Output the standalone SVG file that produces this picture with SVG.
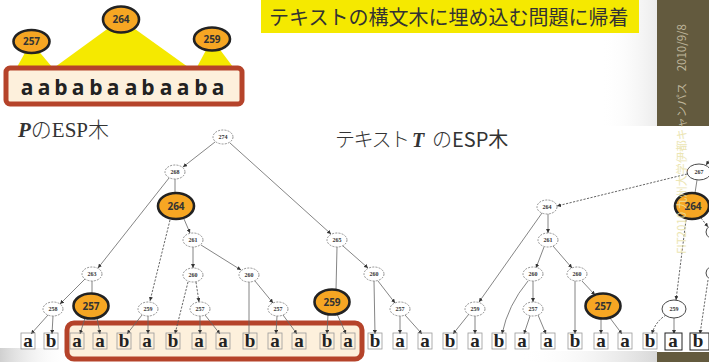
<svg xmlns="http://www.w3.org/2000/svg" width="709" height="362" viewBox="0 0 709 362">
<style>
.tri{fill:#f5e900}
.on{fill:#f6a623;stroke:#222;stroke-width:2.6}
.ol{font-family:"Open Sans","Liberation Sans",sans-serif;font-weight:bold;font-size:10px;fill:#333;text-anchor:middle}
.nd{fill:#fff;stroke:#777;stroke-width:0.8;stroke-dasharray:2 1.2}
.ns{fill:#fff;stroke:#333;stroke-width:0.9}
.nl{font-family:"Liberation Serif",serif;font-weight:bold;font-size:6px;fill:#333;text-anchor:middle}
.e{stroke:#666;stroke-width:0.8;fill:none}
.ed{stroke:#555;stroke-width:0.9;fill:none;stroke-dasharray:2.2 1.4}
.lb{fill:none;stroke:#999;stroke-width:0.8}
.lbs{fill:#fff;stroke:#222;stroke-width:1}
.lt{font-family:"Liberation Serif",serif;font-weight:bold;font-size:19px;fill:#222;text-anchor:middle}
.pl{font-family:"Open Sans","Liberation Sans",sans-serif;font-weight:bold;font-size:21px;fill:#222;text-anchor:middle}
.jp{font-family:"Noto Sans CJK JP",sans-serif;fill:#333}
.side{font-family:"Noto Sans CJK JP",sans-serif;font-size:11.5px;text-anchor:end}
</style>
<defs>
<marker id="ah" viewBox="0 0 6 6" refX="6" refY="3" markerWidth="4" markerHeight="4" orient="auto" markerUnits="userSpaceOnUse"><path d="M0,0 L6,3 L0,6 z" fill="#333"/></marker>
<linearGradient id="gr" x1="0" y1="0" x2="1" y2="0"><stop offset="0" stop-color="#fff" stop-opacity="0"/><stop offset="1" stop-color="#ececec"/></linearGradient>
<linearGradient id="gb" x1="0" y1="0" x2="1" y2="0"><stop offset="0" stop-color="#fff" stop-opacity="0"/><stop offset="1" stop-color="#d8d8d8"/></linearGradient>
<linearGradient id="gl" x1="0" y1="0" x2="1" y2="0"><stop offset="0" stop-color="#d0d0d0"/><stop offset="1" stop-color="#fff" stop-opacity="0"/></linearGradient>
<clipPath id="cb"><rect x="650" y="0" width="59" height="126"/></clipPath>
<clipPath id="cw"><rect x="650" y="126" width="59" height="236"/></clipPath>
</defs>
<rect width="709" height="362" fill="#fff"/>
<!-- background gradients -->
<rect x="600" y="0" width="57" height="126" fill="url(#gr)"/>
<rect x="520" y="351" width="137" height="11" fill="url(#gb)"/>
<rect x="0" y="348" width="70" height="14" fill="url(#gl)"/>
<rect x="657" y="0" width="52" height="126" fill="#635a3e"/>
<rect x="657" y="352" width="52" height="10" fill="#635a3e"/>

<!-- yellow caption box -->
<g id="caption">
<rect x="261" y="0" width="378" height="33" fill="#f5e900"/>
<text class="jp" x="269" y="25" font-size="20">テキストの構文木に埋め込む問題に帰着</text>
</g>

<!-- P pattern illustration -->
<g id="p-tree">
<polygon class="tri" points="31,42 17,67 52,67"/>
<polygon class="tri" points="121,19 55,67 188,67"/>
<polygon class="tri" points="212,39 197,67 233,67"/>
<rect x="6" y="68" width="236" height="36" rx="4" fill="#fdf0dc" stroke="#b5432a" stroke-width="5"/>
<g>
<text class="pl" x="27" y="95">a</text><text class="pl" x="44" y="95">a</text><text class="pl" x="61" y="95">b</text><text class="pl" x="78" y="95">a</text><text class="pl" x="96" y="95">b</text><text class="pl" x="113" y="95">a</text><text class="pl" x="131" y="95">a</text><text class="pl" x="148" y="95">b</text><text class="pl" x="166" y="95">a</text><text class="pl" x="183" y="95">a</text><text class="pl" x="201" y="95">b</text><text class="pl" x="218" y="95">a</text>
</g>
<g id="p257"><ellipse class="on" cx="31.5" cy="41.5" rx="18" ry="11.5"/><text class="ol" x="31.5" y="45">257</text></g>
<g id="p264"><ellipse class="on" cx="121" cy="19.5" rx="18" ry="13"/><text class="ol" x="121" y="23">264</text></g>
<g id="p259"><ellipse class="on" cx="212" cy="39" rx="18" ry="11.5"/><text class="ol" x="212" y="42.5">259</text></g>
</g>

<!-- titles -->
<g id="title-p">
<text x="18" y="137" font-family="Liberation Serif,'Noto Sans CJK JP',serif" font-size="21" fill="#333"><tspan font-weight="bold" font-style="italic">P</tspan><tspan font-family="Noto Sans CJK JP,sans-serif" font-weight="300">の</tspan>ESP<tspan font-family="Noto Sans CJK JP,sans-serif" font-weight="300">木</tspan></text>
</g>
<g id="title-t">
<text y="147" font-size="20" fill="#333" font-family="Noto Sans CJK JP,sans-serif" font-weight="300"><tspan x="335" letter-spacing="-1.5">テキスト</tspan><tspan x="412" font-family="Liberation Serif,serif" font-weight="bold" font-style="italic">T</tspan><tspan x="432">の</tspan><tspan x="452" font-weight="normal">ESP木</tspan></text>
</g>

<!-- highlighted leaf box -->
<rect id="hl" x="67" y="323" width="295" height="36" rx="7" fill="#fdf0dc" stroke="#b5432a" stroke-width="5"/>

<!-- connectors -->
<g id="connectors">
<line class="e" x1="215" y1="142" x2="183" y2="167" marker-end="url(#ah)"/>
<line class="e" x1="230" y1="143" x2="331" y2="234" marker-end="url(#ah)"/>
<line class="e" x1="175" y1="179" x2="175" y2="193"/>
<line class="e" x1="169" y1="178" x2="98" y2="268" marker-end="url(#ah)"/>
<line class="ed" x1="170" y1="220" x2="150" y2="301" marker-end="url(#ah)"/>
<line class="e" x1="184" y1="219" x2="190" y2="233" marker-end="url(#ah)"/>
<line class="e" x1="193" y1="247" x2="193" y2="268" marker-end="url(#ah)"/>
<line class="e" x1="201" y1="245" x2="241" y2="270" marker-end="url(#ah)"/>
<line class="e" x1="85" y1="279" x2="60" y2="304" marker-end="url(#ah)"/>
<line class="e" x1="92" y1="281" x2="92" y2="294"/>
<line class="ed" x1="188" y1="282" x2="175" y2="334" marker-end="url(#ah)"/>
<line class="ed" x1="196" y1="282" x2="199" y2="302" marker-end="url(#ah)"/>
<line class="e" x1="249" y1="282" x2="249" y2="334"/>
<line class="e" x1="255" y1="281" x2="273" y2="303" marker-end="url(#ah)"/>
<line class="e" x1="337" y1="247" x2="336" y2="290"/>
<line class="e" x1="343" y1="246" x2="368" y2="268" marker-end="url(#ah)"/>
<line class="e" x1="48" y1="315" x2="31" y2="334" marker-end="url(#ah)"/>
<line class="e" x1="53" y1="316" x2="52" y2="334" marker-end="url(#ah)"/>
<line class="e" x1="85" y1="318" x2="80" y2="334" marker-end="url(#ah)"/>
<line class="e" x1="97" y1="318" x2="100" y2="334" marker-end="url(#ah)"/>
<line class="e" x1="142" y1="315" x2="127" y2="334" marker-end="url(#ah)"/>
<line class="e" x1="148" y1="316" x2="148" y2="334" marker-end="url(#ah)"/>
<line class="e" x1="200" y1="316" x2="200" y2="334" marker-end="url(#ah)"/>
<line class="e" x1="205" y1="315" x2="220" y2="334" marker-end="url(#ah)"/>
<line class="e" x1="277" y1="316" x2="276" y2="334" marker-end="url(#ah)"/>
<line class="e" x1="283" y1="315" x2="297" y2="334" marker-end="url(#ah)"/>
<line class="e" x1="328" y1="314" x2="327" y2="334" marker-end="url(#ah)"/>
<line class="e" x1="337" y1="314" x2="346" y2="334" marker-end="url(#ah)"/>
<line class="e" x1="374" y1="281" x2="375" y2="334" marker-end="url(#ah)"/>
<line class="e" x1="378" y1="281" x2="395" y2="303" marker-end="url(#ah)"/>
<line class="e" x1="400" y1="316" x2="400" y2="334" marker-end="url(#ah)"/>
<line class="e" x1="405" y1="315" x2="422" y2="334" marker-end="url(#ah)"/>
<line class="e" x1="542" y1="213" x2="479" y2="302" marker-end="url(#ah)"/>
<line class="e" x1="548" y1="214" x2="548" y2="233" marker-end="url(#ah)"/>
<line class="e" x1="544" y1="247" x2="536" y2="268" marker-end="url(#ah)"/>
<line class="e" x1="553" y1="246" x2="572" y2="268" marker-end="url(#ah)"/>
<line class="e" x1="469" y1="314" x2="453" y2="334" marker-end="url(#ah)"/>
<line class="e" x1="475" y1="316" x2="475" y2="334" marker-end="url(#ah)"/>
<path class="e" d="M528,281 Q508,305 502,334" marker-end="url(#ah)"/>
<line class="e" x1="533" y1="281" x2="533" y2="302" marker-end="url(#ah)"/>
<line class="e" x1="530" y1="316" x2="524" y2="334" marker-end="url(#ah)"/>
<line class="e" x1="538" y1="315" x2="546" y2="334" marker-end="url(#ah)"/>
<line class="e" x1="575" y1="281" x2="575" y2="334" marker-end="url(#ah)"/>
<line class="e" x1="582" y1="281" x2="595" y2="295" marker-end="url(#ah)"/>
<line class="e" x1="601" y1="319" x2="601" y2="334" marker-end="url(#ah)"/>
<line class="e" x1="610" y1="318" x2="622" y2="334" marker-end="url(#ah)"/>
<line class="ed" x1="687" y1="174" x2="557" y2="206" marker-end="url(#ah)"/>
<line class="e" x1="711" y1="158" x2="706" y2="165" marker-end="url(#ah)"/>
<line class="e" x1="697" y1="180" x2="695" y2="193"/>
<line class="ed" x1="686" y1="220" x2="676" y2="300" marker-end="url(#ah)"/>
<line class="ed" x1="701" y1="218" x2="708" y2="227" marker-end="url(#ah)"/>
<path class="ed" d="M666,315 Q655,322 652,334" marker-end="url(#ah)"/>
<line class="e" x1="674" y1="318" x2="674" y2="334" marker-end="url(#ah)"/>
<line class="ed" x1="708" y1="280" x2="700" y2="334" marker-end="url(#ah)"/>
</g>

<!-- tree nodes -->
<g id="n274"><ellipse class="nd" cx="223" cy="137" rx="10" ry="7"/><text class="nl" x="223" y="139">274</text></g>
<g id="n268"><ellipse class="nd" cx="175" cy="172" rx="10" ry="7"/><text class="nl" x="175" y="174">268</text></g>
<g id="n265"><ellipse class="nd" cx="337" cy="240" rx="10" ry="7"/><text class="nl" x="337" y="242">265</text></g>
<g id="n261a"><ellipse class="nd" cx="193" cy="240" rx="10" ry="7"/><text class="nl" x="193" y="242">261</text></g>
<g id="n263"><ellipse class="nd" cx="92" cy="274" rx="10" ry="7"/><text class="nl" x="92" y="276">263</text></g>
<g id="n260a"><ellipse class="nd" cx="193" cy="275" rx="10" ry="7"/><text class="nl" x="193" y="277">260</text></g>
<g id="n260b"><ellipse class="nd" cx="249" cy="275" rx="10" ry="7"/><text class="nl" x="249" y="277">260</text></g>
<g id="n258"><ellipse class="nd" cx="53" cy="309" rx="10" ry="7"/><text class="nl" x="53" y="311">258</text></g>
<g id="n259a"><ellipse class="nd" cx="148" cy="309" rx="10" ry="7"/><text class="nl" x="148" y="311">259</text></g>
<g id="n257a"><ellipse class="nd" cx="200" cy="309" rx="10" ry="7"/><text class="nl" x="200" y="311">257</text></g>
<g id="n257b"><ellipse class="nd" cx="278" cy="309" rx="10" ry="7"/><text class="nl" x="278" y="311">257</text></g>
<g id="n260c"><ellipse class="nd" cx="374" cy="274" rx="10" ry="7"/><text class="nl" x="374" y="276">260</text></g>
<g id="n257c"><ellipse class="nd" cx="400" cy="309" rx="10" ry="7"/><text class="nl" x="400" y="311">257</text></g>
<g id="n264b"><ellipse class="nd" cx="547" cy="207" rx="10" ry="7"/><text class="nl" x="547" y="209">264</text></g>
<g id="n261b"><ellipse class="nd" cx="548" cy="240" rx="10" ry="7"/><text class="nl" x="548" y="242">261</text></g>
<g id="n259b"><ellipse class="nd" cx="475" cy="309" rx="10" ry="7"/><text class="nl" x="475" y="311">259</text></g>
<g id="n260d"><ellipse class="nd" cx="533" cy="274" rx="10" ry="7"/><text class="nl" x="533" y="276">260</text></g>
<g id="n260e"><ellipse class="nd" cx="577" cy="274" rx="10" ry="7"/><text class="nl" x="577" y="276">260</text></g>
<g id="n257d"><ellipse class="nd" cx="533" cy="309" rx="10" ry="7"/><text class="nl" x="533" y="311">257</text></g>
<g id="n267"><ellipse class="ns" cx="699" cy="172" rx="12" ry="8"/><text class="nl" x="699" y="174">267</text></g>
<g id="n259c"><ellipse class="ns" cx="674" cy="309" rx="12" ry="9"/><text class="nl" x="674" y="311">259</text></g>
<g id="nx1"><ellipse class="ns" cx="717" cy="232" rx="11" ry="8"/></g>
<g id="nx2"><ellipse class="ns" cx="717" cy="273" rx="11" ry="8"/></g>
<g id="o264"><ellipse class="on" cx="176" cy="206" rx="18" ry="13" stroke-width="3"/><text class="ol" x="176" y="209.5">264</text></g>
<g id="o257a"><ellipse class="on" cx="91" cy="306" rx="17.5" ry="12.5" stroke-width="3"/><text class="ol" x="91" y="309.5">257</text></g>
<g id="o259"><ellipse class="on" cx="332" cy="302" rx="17.5" ry="12.5" stroke-width="3"/><text class="ol" x="332" y="305.5">259</text></g>
<g id="o257b"><ellipse class="on" cx="603" cy="306" rx="17.5" ry="12.5" stroke-width="3"/><text class="ol" x="603" y="309.5">257</text></g>
<g id="o264b"><ellipse class="on" cx="692" cy="206" rx="17" ry="13" stroke-width="3"/><text class="ol" x="693" y="209.5">264</text></g>

<!-- leaves -->
<g id="leaves">
<g><rect class="lb" x="21" y="333" width="14" height="16"/><text class="lt" x="28" y="347">a</text></g>
<g><rect class="lb" x="44" y="333" width="14" height="16"/><text class="lt" x="51" y="347">b</text></g>
<g><rect class="lb" x="70" y="333" width="14" height="16"/><text class="lt" x="77" y="347">a</text></g>
<g><rect class="lb" x="93" y="333" width="14" height="16"/><text class="lt" x="100" y="347">a</text></g>
<g><rect class="lb" x="117" y="333" width="14" height="16"/><text class="lt" x="124" y="347">b</text></g>
<g><rect class="lb" x="140" y="333" width="14" height="16"/><text class="lt" x="147" y="347">a</text></g>
<g><rect class="lb" x="166" y="333" width="14" height="16"/><text class="lt" x="173" y="347">b</text></g>
<g><rect class="lb" x="192" y="333" width="14" height="16"/><text class="lt" x="199" y="347">a</text></g>
<g><rect class="lb" x="216" y="333" width="14" height="16"/><text class="lt" x="223" y="347">a</text></g>
<g><rect class="lb" x="243" y="333" width="14" height="16"/><text class="lt" x="250" y="347">b</text></g>
<g><rect class="lb" x="268" y="333" width="14" height="16"/><text class="lt" x="275" y="347">a</text></g>
<g><rect class="lb" x="292" y="333" width="14" height="16"/><text class="lt" x="299" y="347">a</text></g>
<g><rect class="lb" x="320" y="333" width="14" height="16"/><text class="lt" x="327" y="347">b</text></g>
<g><rect class="lb" x="341" y="333" width="14" height="16"/><text class="lt" x="348" y="347">a</text></g>
<g><rect class="lb" x="368" y="333" width="14" height="16"/><text class="lt" x="375" y="347">b</text></g>
<g><rect class="lb" x="393" y="333" width="14" height="16"/><text class="lt" x="400" y="347">a</text></g>
<g><rect class="lb" x="418" y="333" width="14" height="16"/><text class="lt" x="425" y="347">a</text></g>
<g><rect class="lb" x="443" y="333" width="14" height="16"/><text class="lt" x="450" y="347">b</text></g>
<g><rect class="lb" x="468" y="333" width="14" height="16"/><text class="lt" x="475" y="347">a</text></g>
<g><rect class="lb" x="492" y="333" width="14" height="16"/><text class="lt" x="499" y="347">b</text></g>
<g><rect class="lb" x="515" y="333" width="14" height="16"/><text class="lt" x="522" y="347">a</text></g>
<g><rect class="lb" x="541" y="333" width="14" height="16"/><text class="lt" x="548" y="347">a</text></g>
<g><rect class="lb" x="568" y="333" width="14" height="16"/><text class="lt" x="575" y="347">b</text></g>
<g><rect class="lb" x="594" y="333" width="14" height="16"/><text class="lt" x="601" y="347">a</text></g>
<g><rect class="lb" x="618" y="333" width="14" height="16"/><text class="lt" x="625" y="347">a</text></g>
<g><rect class="lb" x="643" y="333" width="14" height="16"/><text class="lt" x="650" y="347">b</text></g>
<g><rect class="lbs" x="665" y="333" width="17" height="17"/><text class="lt" x="673" y="347">a</text></g>
<g><rect class="lbs" x="690" y="333" width="19" height="17"/><text class="lt" x="698" y="347">b</text></g>
</g>

<!-- side footer text -->
<g id="side">
<g clip-path="url(#cb)"><text class="side" transform="translate(686,24) rotate(-90)" fill="#bdb49a">FIT2010 九州大学伊都キャンパス　2010/9/8</text></g>
<g clip-path="url(#cw)"><text class="side" transform="translate(686,24) rotate(-90)" fill="#e9e2a8" opacity="0.85">FIT2010 九州大学伊都キャンパス　2010/9/8</text></g>
</g>
</svg>
